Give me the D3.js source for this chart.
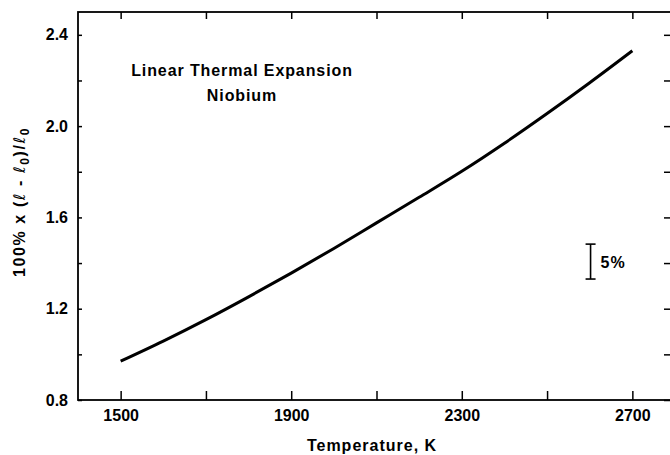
<!DOCTYPE html>
<head>
  <meta charset="utf-8">
  <script src="https://d3js.org/d3.v7.min.js"></script>
  <style>
    body { margin: 0; background: white; }
    text {
      font-family: "Liberation Sans", Arial, Helvetica, sans-serif;
      font-weight: bold;
      fill: black;
    }
    .tick text { font-size: 16px; }
    .ell { font-family: "DejaVu Sans", sans-serif; font-style: italic; font-weight: normal; }
  </style>
</head>

<body>
  <svg id="svg1"></svg>

  <script>
    var width = 670;
    var height = 455;

    // curve, every 100 K
    var temps = [1500, 1600, 1700, 1800, 1900, 2000, 2100, 2200, 2300, 2400, 2500, 2600, 2700];
    var expansion = [0.97, 1.058, 1.152, 1.252, 1.356, 1.464, 1.576, 1.688, 1.802, 1.925, 2.055, 2.19, 2.33];

    // tick values
    var xTicks = [1500, 1700, 1900, 2100, 2300, 2500, 2700];
    var xLabels = [1500, 1900, 2300, 2700];
    var yTicks = [0.8, 1.0, 1.2, 1.4, 1.6, 1.8, 2.0, 2.2, 2.4];
    var yLabels = [0.8, 1.2, 1.6, 2.0, 2.4];

    // 5% scale bar (data units)
    var barRange = [1.33, 1.483];
    var barTemp = 2602;

    var svg = d3.select("#svg1")
      .attr("width", width)
      .attr("height", height);

    var x = d3.scaleLinear().domain([1400, 2800]).range([78, 675]);
    var y = d3.scaleLinear().domain([0.8, 2.5]).range([400, 12]);

    function fmtX(d) { return xLabels.indexOf(d) >= 0 ? d : ""; }
    function fmtY(d) {
      return yLabels.some(function(v) { return Math.abs(v - d) < 1e-6; }) ? d3.format(".1f")(d) : "";
    }

    // frame
    svg.append("rect")
      .attr("x", x.range()[0])
      .attr("y", y.range()[1])
      .attr("width", x.range()[1] - x.range()[0])
      .attr("height", y.range()[0] - y.range()[1])
      .attr("fill", "none")
      .attr("stroke", "black")
      .attr("stroke-width", 1.8);

    // axes, ticks pointing inward
    svg.append("g")
      .attr("transform", "translate(0," + y.range()[0] + ")")
      .call(d3.axisBottom(x).tickValues(xTicks).tickSize(-9).tickPadding(10).tickFormat(fmtX));

    svg.append("g")
      .attr("transform", "translate(0," + y.range()[1] + ")")
      .call(d3.axisTop(x).tickValues(xTicks).tickSize(-7).tickFormat(""));

    svg.append("g")
      .attr("transform", "translate(" + x.range()[0] + ",0)")
      .call(d3.axisLeft(y).tickValues(yTicks).tickSize(-4).tickPadding(10).tickFormat(fmtY));

    svg.append("g")
      .attr("transform", "translate(670,0)")
      .call(d3.axisRight(y).tickValues(yTicks).tickSize(-6).tickFormat(""));

    svg.selectAll(".domain").remove();
    svg.selectAll(".tick line").attr("stroke", "black").attr("stroke-width", 1.5);
    svg.selectAll(".tick text").attr("fill", "black");

    // the curve
    var pts = temps.map(function(t, i) { return [t, expansion[i]]; });
    var line = d3.line()
      .x(function(d) { return x(d[0]); })
      .y(function(d) { return y(d[1]); })
      .curve(d3.curveMonotoneX);

    svg.append("path")
      .datum(pts)
      .attr("d", line)
      .attr("fill", "none")
      .attr("stroke", "black")
      .attr("stroke-width", 3);

    // title inside plot
    svg.append("text")
      .attr("x", 242).attr("y", 76)
      .attr("text-anchor", "middle")
      .style("font-size", "16px")
      .style("letter-spacing", "0.9px")
      .text("Linear Thermal Expansion");
    svg.append("text")
      .attr("x", 242).attr("y", 101)
      .attr("text-anchor", "middle")
      .style("font-size", "16px")
      .style("letter-spacing", "0.9px")
      .text("Niobium");

    // 5% bar
    var bx = x(barTemp);
    var bar = svg.append("g").attr("stroke", "black").attr("stroke-width", 1.6);
    bar.append("line").attr("x1", bx).attr("x2", bx).attr("y1", y(barRange[0])).attr("y2", y(barRange[1]));
    bar.append("line").attr("x1", bx - 5).attr("x2", bx + 5).attr("y1", y(barRange[0])).attr("y2", y(barRange[0]));
    bar.append("line").attr("x1", bx - 5).attr("x2", bx + 5).attr("y1", y(barRange[1])).attr("y2", y(barRange[1]));
    svg.append("text")
      .attr("x", bx + 10)
      .attr("y", (y(barRange[0]) + y(barRange[1])) / 2 + 6)
      .style("font-size", "16px")
      .style("letter-spacing", "1px")
      .text("5%");

    // axis titles
    svg.append("text")
      .attr("x", 372).attr("y", 451)
      .attr("text-anchor", "middle")
      .style("font-size", "16px")
      .style("letter-spacing", "1px")
      .text("Temperature, K");

    var ylab = svg.append("text")
      .attr("transform", "translate(25,202) rotate(-90)")
      .attr("text-anchor", "middle")
      .style("font-size", "16px")
      .style("letter-spacing", "1.6px");
    ylab.append("tspan").text("100% x (");
    ylab.append("tspan").attr("class", "ell").text("ℓ");
    ylab.append("tspan").text(" - ");
    ylab.append("tspan").attr("class", "ell").text("ℓ");
    ylab.append("tspan").attr("dy", 4).style("font-size", "12px").text("0");
    ylab.append("tspan").attr("dy", -4).text(")/");
    ylab.append("tspan").attr("class", "ell").text("ℓ");
    ylab.append("tspan").attr("dy", 4).style("font-size", "12px").text("0");
  </script>
</body>
